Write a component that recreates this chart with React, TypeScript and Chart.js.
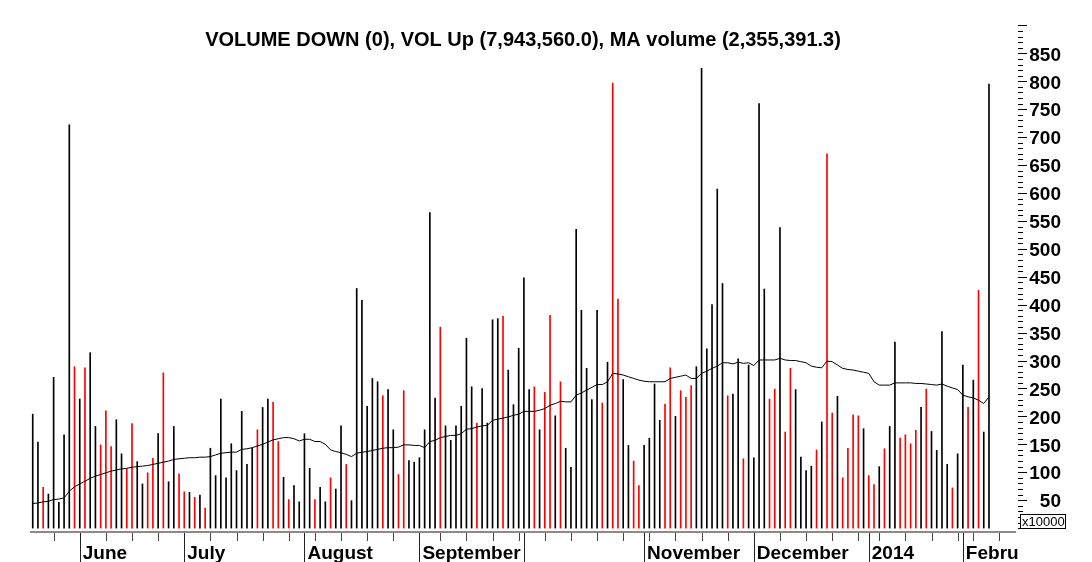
import { useEffect, useRef } from "react";
import { Chart, registerables } from "chart.js";

Chart.register(...registerables);

const W = 1092;
const H = 562;

const titleText = "VOLUME DOWN (0), VOL Up (7,943,560.0), MA volume (2,355,391.3)";

// daily volume (x10000)
const volumes = [
  204, 154, 73, 61, 270, 46, 167, 722, 289, 231,
  287, 314, 182, 149, 210, 146, 194, 133, 106, 187,
  119, 79, 99, 125, 169, 278, 83, 182, 97, 65,
  64, 55, 59, 36, 143, 94, 231, 90, 151, 103,
  209, 114, 143, 176, 216, 231, 225, 155, 91, 51,
  76, 47, 169, 107, 51, 73, 47, 90, 70, 183,
  114, 49, 429, 408, 218, 268, 262, 237, 248, 176,
  96, 246, 121, 118, 126, 176, 565, 233, 360, 183,
  157, 183, 218, 340, 253, 188, 250, 188, 373, 375,
  379, 283, 221, 322, 448, 248, 253, 176, 243, 381,
  201, 262, 143, 109, 535, 390, 286, 230, 390, 224,
  297, 797, 410, 266, 148, 120, 76, 148, 161, 258,
  193, 222, 287, 200, 246, 234, 255, 289, 823, 321,
  400, 607, 438, 237, 240, 303, 124, 292, 126, 760,
  428, 231, 249, 538, 172, 286, 248, 127, 103, 111,
  140, 190, 670, 206, 236, 90, 143, 203, 201, 178,
  94, 78, 110, 142, 182, 333, 161, 167, 151, 175,
  216, 249, 173, 139, 352, 114, 72, 133, 292, 216,
  265, 426, 172, 795,
];

// indices of down-volume (red) bars
const downBarIndex = [
  2, 8, 10, 13, 14, 15, 18, 19, 22, 23, 25, 28, 29, 31, 33, 43, 46, 47, 49, 54,
  57, 60, 67, 70, 71, 78, 85, 90, 96, 98, 99, 101, 109, 111, 112, 115, 116, 121,
  122, 124, 125, 126, 133, 136, 141, 142, 144, 145, 150, 152, 153, 155, 156, 157,
  158, 160, 161, 163, 166, 167, 168, 169, 171, 176, 179, 181,
];

// moving average of volume (x10000)
const maVolume = [
  44, 45, 47, 48, 51, 52, 54, 66, 74, 79,
  84, 89, 93, 96, 99, 102, 104, 106, 107, 109,
  110, 111, 112, 114, 116, 118, 120, 123, 124, 125,
  126, 126, 127, 127, 128, 131, 134, 135, 136, 136,
  141, 142, 144, 147, 150, 154, 158, 160, 162, 162,
  160, 156, 159, 159, 155, 155, 150, 140, 137, 135,
  132, 128, 134, 136, 137, 139, 141, 143, 144, 144,
  145, 149, 149, 148, 148, 144, 155, 157, 162, 164,
  166, 166, 169, 177, 178, 181, 183, 184, 193, 195,
  197, 199, 202, 204, 209, 209, 209, 211, 214, 220,
  223, 227, 226, 226, 238, 242, 247, 252, 257, 257,
  262, 277, 276, 274, 271, 268, 265, 263, 262, 262,
  262, 262, 268, 270, 272, 274, 268, 268, 277, 281,
  286, 290, 296, 296, 294, 297, 295, 296, 291, 301,
  301, 301, 301, 304, 301, 300, 300, 298, 296, 290,
  288, 287, 299, 298, 292, 286, 284, 283, 281, 279,
  277, 262, 256, 256, 256, 260, 260, 260, 260, 259,
  259, 258, 257, 256, 258, 254, 251, 248, 238, 235,
  233, 229, 223, 235,
];

// x axis: month starts (bar index) and labels
const monthStartIndex = [9, 29, 52, 74, 94, 117, 138, 160, 178];
const monthLabels = ["June", "July", "August", "September", "", "November", "December", "2014", "Febru"];
const weekTickIndex = [
  4, 9, 14, 19, 24, 29, 34, 39, 44, 49, 54, 59, 64, 69, 74, 78, 83, 88, 93, 98,
  103, 108, 113, 118, 123, 128, 133, 138, 143, 148, 153, 158, 162, 167, 172, 177,
  180, 185,
];

// y axis labels (x10000)
const yTickLabels = [50, 100, 150, 200, 250, 300, 350, 400, 450, 500, 550, 600, 650, 700, 750, 800, 850];
const yUnitLabel = "x10000";

const FONT = "'Liberation Sans', Arial, Helvetica, sans-serif";

const overlayPlugin = {
  id: "overlay",
  afterDraw(chart: any) {
    const { ctx, chartArea: ca, scales } = chart;
    const xs = scales.x;
    const ys = scales.y;
    ctx.save();

    // title
    ctx.fillStyle = "#000";
    ctx.font = `bold 20px ${FONT}`;
    ctx.textAlign = "center";
    ctx.textBaseline = "middle";
    ctx.fillText(titleText, (ca.left + ca.right) / 2, 40);

    // x axis line
    ctx.strokeStyle = "#8a8a8a";
    ctx.lineWidth = 2;
    ctx.beginPath();
    ctx.moveTo(ca.left, ca.bottom);
    ctx.lineTo(ca.right, ca.bottom);
    ctx.stroke();

    // weekly ticks
    ctx.strokeStyle = "#444";
    ctx.lineWidth = 1;
    ctx.beginPath();
    weekTickIndex.forEach((i) => {
      const px = Math.round(xs.getPixelForValue(i)) + 0.5;
      ctx.moveTo(px, ca.bottom + 1);
      ctx.lineTo(px, ca.bottom + 9);
    });
    ctx.stroke();

    // month separators
    ctx.strokeStyle = "#222";
    ctx.beginPath();
    monthStartIndex.forEach((i) => {
      const px = Math.round(xs.getPixelForValue(i)) + 0.5;
      ctx.moveTo(px, ca.bottom + 1);
      ctx.lineTo(px, H);
    });
    ctx.stroke();

    // month labels
    ctx.save();
    ctx.beginPath();
    ctx.rect(0, ca.bottom + 2, ca.right + 2, H);
    ctx.clip();
    ctx.fillStyle = "#000";
    ctx.font = `bold 19px ${FONT}`;
    ctx.textAlign = "left";
    ctx.textBaseline = "alphabetic";
    monthStartIndex.forEach((i, k) => {
      const label = monthLabels[k];
      if (!label) return;
      const px = xs.getPixelForValue(i);
      ctx.fillText(label, px + 3, 559);
    });
    ctx.restore();

    // right axis ticks
    const axX = ca.right + 2;
    ctx.strokeStyle = "#000";
    ctx.lineWidth = 1;
    ctx.beginPath();
    for (let v = 0; v <= 900; v += 10) {
      const py = Math.round(ys.getPixelForValue(v)) + 0.5;
      const major = v % 50 === 0;
      ctx.moveTo(axX, py);
      ctx.lineTo(axX + (major ? 9 : 5), py);
    }
    ctx.stroke();

    // right axis labels
    ctx.fillStyle = "#000";
    ctx.font = `bold 19px ${FONT}`;
    ctx.textAlign = "right";
    ctx.textBaseline = "middle";
    yTickLabels.forEach((v) => {
      const py = ys.getPixelForValue(v);
      ctx.fillText(String(v), 1061, py + 2);
    });

    // unit box
    ctx.fillStyle = "#fff";
    ctx.fillRect(1020, 514, 45, 14);
    ctx.strokeStyle = "#000";
    ctx.strokeRect(1020.5, 514.5, 45, 14);
    ctx.fillStyle = "#000";
    ctx.font = `13px ${FONT}`;
    ctx.textAlign = "left";
    ctx.textBaseline = "middle";
    ctx.fillText(yUnitLabel, 1022, 522);

    ctx.restore();
  },
};

export default function App() {
  const canvasRef = useRef<HTMLCanvasElement | null>(null);

  useEffect(() => {
    if (!canvasRef.current) return;
    const downSet = new Set(downBarIndex);
    const barData = volumes.map((v, i) => ({ x: i, y: v }));
    const maData = maVolume.map((v, i) => ({ x: i, y: v }));
    const barColors = volumes.map((_, i) => (downSet.has(i) ? "#ff0000" : "#000000"));

    const chart = new Chart(canvasRef.current, {
      type: "bar",
      data: {
        datasets: [
          {
            type: "line",
            label: "MA volume",
            data: maData,
            borderColor: "#000",
            borderWidth: 1,
            pointRadius: 0,
            tension: 0,
            fill: false,
            order: 0,
          } as any,
          {
            type: "bar",
            label: "Volume",
            data: barData,
            backgroundColor: barColors,
            borderWidth: 0,
            barThickness: 1,
            order: 1,
          } as any,
        ],
      },
      options: {
        responsive: false,
        animation: false,
        devicePixelRatio: 1,
        layout: { padding: { left: 30, right: 76, top: 26, bottom: 30 } },
        scales: {
          x: {
            type: "linear",
            min: -0.52,
            max: 188.17,
            offset: false,
            display: false,
            grid: { offset: false },
          },
          y: { type: "linear", min: -7, max: 899, display: false },
        },
        plugins: {
          legend: { display: false },
          tooltip: { enabled: false },
          title: { display: false },
        },
      },
      plugins: [overlayPlugin],
    });
    return () => chart.destroy();
  }, []);

  return (
    <div style={{ position: "fixed", left: 0, top: 0, width: W, height: H, background: "#fff" }}>
      <canvas ref={canvasRef} width={W} height={H} style={{ width: W, height: H, display: "block" }} />
    </div>
  );
}
